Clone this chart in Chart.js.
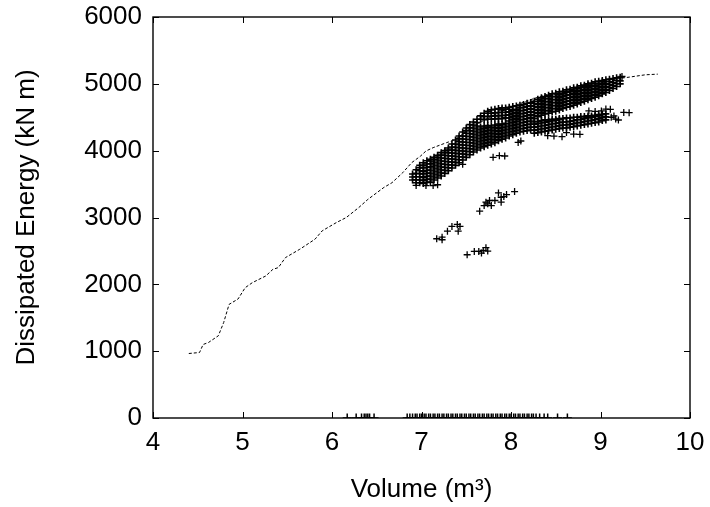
<!DOCTYPE html>
<html>
<head>
<meta charset="utf-8">
<script src="https://cdn.jsdelivr.net/npm/chart.js@4"></script>
<style>
  body { margin: 0; background: #fff; }
  canvas { display: block; }
</style>
</head>
<body>
<canvas id="myChart" width="710" height="507"></canvas>
<script>
// dashed curve
const lineVolume = [4.40, 4.52, 4.56, 4.62, 4.73, 4.79, 4.85, 4.95, 5.03, 5.11, 5.26, 5.34, 5.40, 5.48, 5.64, 5.81, 5.89, 6.05, 6.16, 6.30, 6.40, 6.50, 6.58, 6.67, 6.79, 6.89, 6.99, 7.05, 7.13, 7.28, 7.36, 7.44, 7.60, 7.80, 7.98, 8.18, 8.38, 8.62, 8.80, 9.00, 9.20, 9.32, 9.50, 9.64];
const lineEnergy = [965, 980, 1100, 1130, 1230, 1430, 1700, 1780, 1950, 2025, 2125, 2225, 2250, 2400, 2525, 2675, 2800, 2925, 3000, 3150, 3270, 3370, 3450, 3520, 3670, 3820, 3920, 3995, 4045, 4120, 4155, 4230, 4380, 4530, 4640, 4745, 4835, 4845, 4900, 5000, 5080, 5100, 5135, 5145];

// main cloud, one column of energies per volume
const cloudVolume = [6.90, 6.94, 6.98, 7.02, 7.06, 7.10, 7.14, 7.18, 7.22, 7.26, 7.30, 7.34, 7.38, 7.42, 7.46, 7.50, 7.54, 7.58, 7.62, 7.66, 7.70, 7.74, 7.78, 7.82, 7.86, 7.90, 7.94, 7.98, 8.02, 8.06, 8.10, 8.14, 8.18, 8.22, 8.26, 8.30, 8.34, 8.38, 8.42, 8.46, 8.50, 8.54, 8.58, 8.62, 8.66, 8.70, 8.74, 8.78, 8.82, 8.86, 8.90, 8.94, 8.98, 9.02, 9.06, 9.10, 9.14, 9.18, 9.22];
const cloudEnergy = [
  [3560, 3605, 3650],
  [3520, 3565, 3610, 3660, 3715],
  [3520, 3560, 3610, 3655, 3700, 3745, 3780],
  [3510, 3555, 3600, 3650, 3690, 3740, 3780, 3820],
  [3525, 3570, 3615, 3660, 3705, 3750, 3800, 3850],
  [3530, 3575, 3620, 3665, 3710, 3760, 3805, 3845, 3870],
  [3560, 3605, 3650, 3695, 3740, 3785, 3830, 3870, 3900],
  [3590, 3635, 3680, 3725, 3770, 3815, 3860, 3900, 3930],
  [3620, 3665, 3710, 3755, 3800, 3845, 3890, 3935, 3970],
  [3660, 3705, 3750, 3795, 3840, 3885, 3930, 3970, 4000],
  [3700, 3745, 3790, 3835, 3880, 3925, 3970, 4010, 4040],
  [3740, 3785, 3830, 3875, 3920, 3965, 4010, 4055, 4100],
  [3780, 3825, 3870, 3915, 3960, 4005, 4050, 4100, 4160],
  [3820, 3865, 3910, 3955, 4000, 4045, 4090, 4135, 4180, 4220],
  [3860, 3905, 3950, 3995, 4040, 4085, 4130, 4175, 4220, 4280],
  [3900, 3945, 3990, 4035, 4080, 4125, 4170, 4215, 4260, 4300, 4340],
  [3940, 3985, 4030, 4075, 4120, 4165, 4210, 4255, 4300, 4345, 4390],
  [3980, 4025, 4070, 4115, 4160, 4205, 4250, 4295, 4340, 4385, 4430],
  [4010, 4055, 4100, 4145, 4190, 4235, 4280, 4325, 4370, 4420, 4470],
  [4040, 4085, 4130, 4175, 4220, 4265, 4310, 4355, 4470, 4520],
  [4060, 4105, 4150, 4195, 4240, 4285, 4330, 4370, 4465, 4510, 4560],
  [4080, 4125, 4170, 4215, 4260, 4305, 4350, 4375, 4470, 4515, 4560, 4590],
  [4100, 4145, 4190, 4235, 4280, 4325, 4370, 4470, 4515, 4560, 4610],
  [4120, 4165, 4210, 4255, 4300, 4345, 4385, 4475, 4520, 4565, 4620],
  [4150, 4195, 4240, 4285, 4330, 4375, 4400, 4480, 4525, 4570, 4630],
  [4170, 4215, 4260, 4305, 4350, 4395, 4480, 4525, 4570, 4610, 4640],
  [4190, 4235, 4280, 4325, 4370, 4410, 4490, 4530, 4575, 4640],
  [4220, 4265, 4310, 4355, 4400, 4445, 4490, 4535, 4580, 4620, 4650],
  [4240, 4285, 4330, 4375, 4420, 4465, 4510, 4555, 4600, 4660],
  [4260, 4305, 4350, 4395, 4440, 4485, 4530, 4575, 4620, 4670],
  [4280, 4325, 4370, 4415, 4460, 4505, 4550, 4595, 4640, 4680],
  [4290, 4335, 4380, 4425, 4470, 4515, 4560, 4605, 4650, 4690],
  [4300, 4345, 4390, 4435, 4480, 4525, 4570, 4615, 4660, 4710],
  [4310, 4355, 4400, 4445, 4490, 4535, 4580, 4625, 4670, 4720],
  [4480, 4525, 4570, 4615, 4660, 4705, 4740],
  [4510, 4555, 4600, 4645, 4690, 4735, 4770],
  [4530, 4575, 4620, 4665, 4710, 4755, 4790],
  [4550, 4595, 4640, 4685, 4730, 4775, 4810],
  [4560, 4605, 4650, 4695, 4740, 4785, 4830],
  [4580, 4625, 4670, 4715, 4760, 4805, 4850],
  [4590, 4635, 4680, 4725, 4770, 4815, 4860],
  [4610, 4655, 4700, 4745, 4790, 4835, 4880],
  [4630, 4675, 4720, 4765, 4810, 4855, 4890],
  [4650, 4695, 4740, 4785, 4830, 4875, 4910],
  [4660, 4705, 4750, 4795, 4840, 4885, 4920],
  [4680, 4725, 4770, 4815, 4860, 4905, 4940],
  [4700, 4745, 4790, 4835, 4880, 4925, 4950],
  [4720, 4765, 4810, 4855, 4900, 4945, 4970],
  [4740, 4785, 4830, 4875, 4920, 4960, 4980],
  [4760, 4805, 4850, 4895, 4940, 4980, 5000],
  [4780, 4825, 4870, 4915, 4960, 5010],
  [4800, 4845, 4890, 4935, 4980, 5030],
  [4820, 4865, 4910, 4955, 5000, 5040],
  [4850, 4895, 4940, 4985, 5030, 5050],
  [4870, 4915, 4960, 5005, 5060],
  [4900, 4945, 4990, 5035, 5070],
  [4930, 4975, 5020, 5080],
  [4960, 5005, 5050, 5090],
  [5000, 5045, 5100]
];

// lower right branch
const branchVolume = [8.26, 8.30, 8.34, 8.38, 8.42, 8.46, 8.50, 8.54, 8.58, 8.62, 8.66, 8.70, 8.74, 8.78, 8.82, 8.86, 8.90, 8.94, 8.98, 9.02, 9.06];
const branchEnergy = [
  [4260, 4305, 4350, 4395, 4430],
  [4270, 4315, 4360, 4405, 4440],
  [4280, 4325, 4370, 4415, 4450],
  [4290, 4335, 4380, 4425, 4460],
  [4300, 4345, 4390, 4435, 4460],
  [4310, 4355, 4400, 4445, 4470],
  [4320, 4365, 4410, 4455, 4470],
  [4330, 4375, 4420, 4465, 4480],
  [4340, 4385, 4430, 4480],
  [4340, 4385, 4430, 4490],
  [4350, 4395, 4440, 4490],
  [4360, 4405, 4450, 4500],
  [4370, 4415, 4460, 4500],
  [4380, 4425, 4470, 4510],
  [4390, 4435, 4480, 4510],
  [4400, 4445, 4490, 4520],
  [4410, 4455, 4500, 4520],
  [4420, 4465, 4510, 4530],
  [4430, 4475, 4520, 4540],
  [4450, 4495, 4540],
  [4460, 4505, 4550]
];

// loose points and the three small groups below the cloud
const looseVolume = [6.94, 7.05, 7.13, 7.18, 7.46, 7.80, 7.87, 7.93, 8.08, 8.11, 8.41, 8.48, 8.57, 8.62, 8.70, 8.77, 8.87, 8.94, 9.01, 9.06, 9.11, 9.12, 9.15, 9.17, 9.20, 9.26, 9.32, 9.24,
  7.65, 7.70, 7.72, 7.74, 7.76, 7.78, 7.82, 7.86, 7.89, 7.89, 7.92, 7.95, 8.04,
  7.17, 7.23, 7.23, 7.29, 7.34, 7.40, 7.41, 7.43,
  7.51, 7.59, 7.64, 7.67, 7.69, 7.72, 7.74];
const looseEnergy = [3480, 3478, 3478, 3490, 3796, 3900, 3925, 3920, 4124, 4145, 4224, 4219, 4209, 4270, 4249, 4244, 4594, 4587, 4594, 4622, 4619, 4500, 4520, 4473, 4459, 4572, 4569, 5110,
  3094, 3179, 3229, 3204, 3254, 3179, 3254, 3368, 3303, 3229, 3313, 3343, 3388,
  2682, 2667, 2706, 2796, 2866, 2896, 2796, 2866,
  2443, 2493, 2493, 2468, 2508, 2548, 2498];

// points lying on zero energy
const zeroVolume = [6.17, 6.27, 6.33, 6.36, 6.38, 6.40, 6.42, 6.47, 6.84, 6.87, 6.90, 6.93, 6.95, 6.98, 7.00, 7.03, 7.05, 7.08, 7.10, 7.13, 7.15, 7.18, 7.20, 7.23, 7.25, 7.28, 7.30, 7.33, 7.35, 7.38, 7.40, 7.43, 7.45, 7.48, 7.50, 7.53, 7.55, 7.58, 7.60, 7.63, 7.65, 7.68, 7.70, 7.73, 7.75, 7.78, 7.80, 7.83, 7.85, 7.88, 7.90, 7.93, 7.95, 7.98, 8.00, 8.03, 8.05, 8.08, 8.10, 8.13, 8.15, 8.18, 8.20, 8.23, 8.25, 8.28, 8.32, 8.37, 8.41, 8.52, 8.63];

const volumeTicks = [4, 5, 6, 7, 8, 9, 10];
const energyTicks = [0, 1000, 2000, 3000, 4000, 5000, 6000];

const font = { family: 'Liberation Sans, Arial, sans-serif', size: 26 };

function columnsToPoints(xs, cols) {
  const pts = [];
  xs.forEach((x, i) => cols[i].forEach(y => pts.push({ x: x, y: y })));
  return pts;
}

const cloudPoints = columnsToPoints(cloudVolume, cloudEnergy)
  .concat(columnsToPoints(branchVolume, branchEnergy));
const loosePoints = looseVolume.map((x, i) => ({ x: x, y: looseEnergy[i] }));
const zeroPoints = zeroVolume.map(x => ({ x: x, y: 0 }));
const linePoints = lineVolume.map((x, i) => ({ x: x, y: lineEnergy[i] }));

// frame + inward ticks on all four sides
const frameTicks = {
  id: 'frameTicks',
  afterDraw(chart) {
    const ctx = chart.ctx;
    const a = chart.chartArea;
    const xs = chart.scales.x, ys = chart.scales.y;
    ctx.save();
    ctx.strokeStyle = '#000';
    ctx.lineWidth = 1.4;
    ctx.strokeRect(a.left, a.top, a.right - a.left, a.bottom - a.top);
    ctx.lineWidth = 1;
    ctx.beginPath();
    volumeTicks.forEach(v => {
      const px = Math.round(xs.getPixelForValue(v)) + 0.5;
      ctx.moveTo(px, a.bottom); ctx.lineTo(px, a.bottom - 6);
      ctx.moveTo(px, a.top); ctx.lineTo(px, a.top + 6);
    });
    energyTicks.forEach(v => {
      const py = Math.round(ys.getPixelForValue(v)) + 0.5;
      ctx.moveTo(a.left, py); ctx.lineTo(a.left + 6, py);
      ctx.moveTo(a.right, py); ctx.lineTo(a.right - 6, py);
    });
    ctx.stroke();
    ctx.restore();
  }
};

document.addEventListener('DOMContentLoaded', function () {
  const ctx = document.getElementById('myChart');
  new Chart(ctx, {
    type: 'scatter',
    data: {
      datasets: [{
        type: 'line',
        label: 'curve',
        data: linePoints,
        showLine: true,
        borderColor: '#000',
        borderWidth: 1,
        borderDash: [3, 2],
        pointRadius: 0,
        fill: false,
        tension: 0
      }, {
        label: 'cloud',
        data: cloudPoints,
        pointStyle: 'cross',
        pointRadius: 3.5,
        borderWidth: 1.6,
        borderColor: '#000',
        backgroundColor: '#000',
        clip: 0
      }, {
        label: 'loose',
        data: loosePoints,
        pointStyle: 'cross',
        pointRadius: 3.5,
        borderWidth: 1.3,
        borderColor: '#000',
        backgroundColor: '#000',
        clip: 0
      }, {
        label: 'zero',
        data: zeroPoints,
        pointStyle: 'cross',
        pointRadius: 4.5,
        borderWidth: 1.5,
        borderColor: '#000',
        backgroundColor: '#000',
        clip: 0
      }]
    },
    options: {
      responsive: false,
      animation: false,
      layout: { padding: { left: 0, right: 20, top: 17, bottom: 0 } },
      plugins: { legend: { display: false }, tooltip: { enabled: false } },
      scales: {
        x: {
          type: 'linear',
          min: 4,
          max: 10,
          afterBuildTicks: s => { s.ticks = volumeTicks.map(v => ({ value: v })); },
          afterFit: s => { s.height = 89; s.paddingLeft = 0; s.paddingRight = 0; },
          ticks: { font: font, color: '#000', padding: 9, maxRotation: 0, callback: v => String(v) },
          grid: { display: false, drawTicks: false },
          border: { display: false },
          title: { display: true, text: 'Volume (m³)', font: font, color: '#000', padding: { top: 0, bottom: 2 } }
        },
        y: {
          type: 'linear',
          min: 0,
          max: 6000,
          afterBuildTicks: s => { s.ticks = energyTicks.map(v => ({ value: v })); },
          afterFit: s => { s.width = 153; s.paddingTop = 0; s.paddingBottom = 0; },
          ticks: { font: font, color: '#000', padding: 11, callback: v => String(v) },
          grid: { display: false, drawTicks: false },
          border: { display: false },
          title: { display: true, text: 'Dissipated Energy (kN m)', font: font, color: '#000', padding: { top: 11, bottom: 0 } }
        }
      }
    },
    plugins: [frameTicks]
  });
});
</script>
</body>
</html>
